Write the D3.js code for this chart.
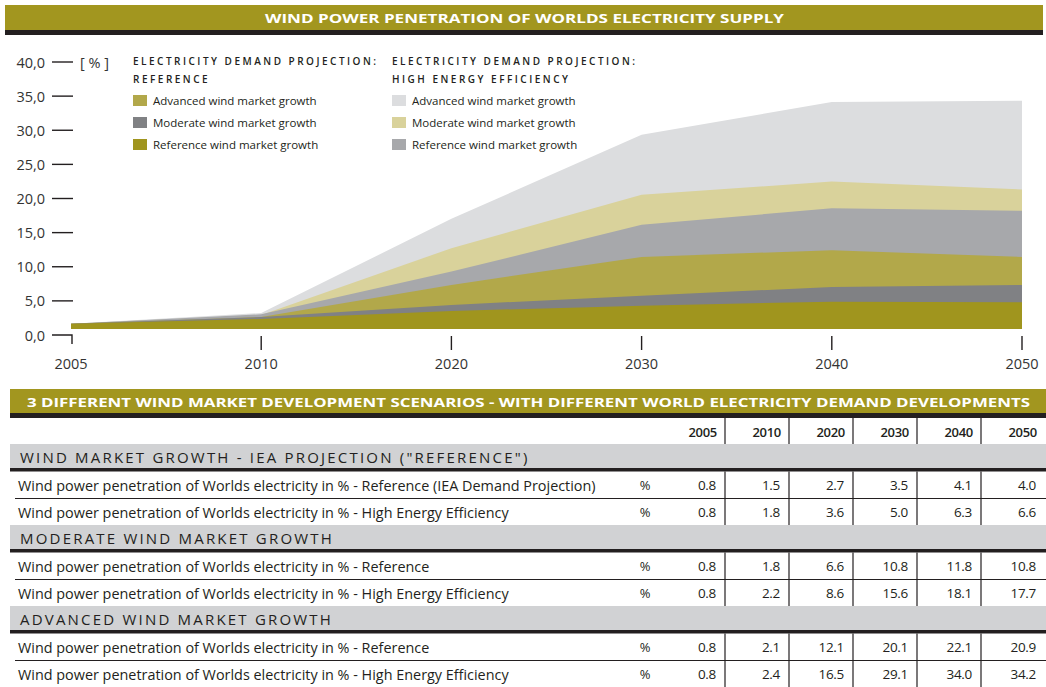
<!DOCTYPE html>
<html><head><meta charset="utf-8">
<script src="https://cdn.jsdelivr.net/npm/d3@7"></script>
<style>
body{margin:0;background:#fff}
svg{display:block}
text{font-family:"Open Sans",sans-serif;fill:#231f20}
</style>
</head><body>
<svg id="c" width="1046" height="687"></svg>
<script>
// ---------- DATA ----------
const years = [2005, 2010, 2020, 2030, 2040, 2050];
const refRef = [0.8, 1.5, 2.7, 3.5, 4.1, 4.0];
const refHE  = [0.8, 1.8, 3.6, 5.0, 6.3, 6.6];
const modRef = [0.8, 1.8, 6.6, 10.8, 11.8, 10.8];
const modHE  = [0.8, 2.2, 8.6, 15.6, 18.1, 17.7];
const advRef = [0.8, 2.1, 12.1, 20.1, 22.1, 20.9];
const advHE  = [0.8, 2.4, 16.5, 29.1, 34.0, 34.2];
const yTicks = [0, 5, 10, 15, 20, 25, 30, 35, 40];
const yTickLabels = ["0,0", "5,0", "10,0", "15,0", "20,0", "25,0", "30,0", "35,0", "40,0"];
const yUnit = "[ % ]";
const chartTitle = "WIND POWER PENETRATION OF WORLDS ELECTRICITY SUPPLY";
const tableTitle = "3 DIFFERENT WIND MARKET DEVELOPMENT SCENARIOS - WITH DIFFERENT WORLD ELECTRICITY DEMAND DEVELOPMENTS";
const legendHeadersRef = ["ELECTRICITY DEMAND PROJECTION:", "REFERENCE"];
const legendHeadersHE = ["ELECTRICITY DEMAND PROJECTION:", "HIGH ENERGY EFFICIENCY"];
const legendLabels = ["Advanced wind market growth", "Moderate wind market growth", "Reference wind market growth"];
const legendColorsRef = ["#b2a84a", "#808184", "#a0951e"];
const legendColorsHE = ["#dcdddf", "#d9d29b", "#a7a8ab"];
const sectionTitles = ["WIND MARKET GROWTH - IEA PROJECTION (\"REFERENCE\")", "MODERATE WIND MARKET GROWTH", "ADVANCED WIND MARKET GROWTH"];
const rowLabelRefIEA = "Wind power penetration of Worlds electricity in % - Reference (IEA Demand Projection)";
const rowLabelRef = "Wind power penetration of Worlds electricity in % - Reference";
const rowLabelHE = "Wind power penetration of Worlds electricity in % - High Energy Efficiency";
const unitLabel = "%";

// series drawn back to front, with their fill colours in the chart
const areaSeries = [
  {v: advHE, c: "#dcdddf"},
  {v: advRef, c: "#d9d29b"},
  {v: modHE, c: "#a7a8ab"},
  {v: modRef, c: "#b2a84a"},
  {v: refHE, c: "#808184"},
  {v: refRef, c: "#a0951e"}
];
const tableBlocks = [
  {title: sectionTitles[0], rows: [{label: rowLabelRefIEA, v: refRef}, {label: rowLabelHE, v: refHE}]},
  {title: sectionTitles[1], rows: [{label: rowLabelRef, v: modRef}, {label: rowLabelHE, v: modHE}]},
  {title: sectionTitles[2], rows: [{label: rowLabelRef, v: advRef}, {label: rowLabelHE, v: advHE}]}
];

// ---------- DRAW ----------
const svg = d3.select("#c");
const ink = "#231f20";
const olive = "#a2961f";

// title bar
svg.append("rect").attr("x", 5).attr("y", 5).attr("width", 1038).attr("height", 25).attr("fill", olive);
svg.append("rect").attr("x", 5).attr("y", 30).attr("width", 1038).attr("height", 5).attr("fill", ink);
svg.append("text").attr("x", 265).attr("y", 18).attr("dominant-baseline", "central")
  .attr("textLength", 519).attr("lengthAdjust", "spacingAndGlyphs")
  .style("font-size", "12.5px").style("font-weight", "700").style("fill", "#fff")
  .text(chartTitle);

// scales
const x = d3.scalePoint().domain(years).range([71, 1022]);
const y = d3.scaleLinear().domain([0, 40]).range([329, 62]);
const yAxisScale = d3.scaleLinear().domain([0, 40]).range([335, 62]);

// areas
const area = d3.area()
  .x((d, i) => x(years[i]))
  .y0(y(0))
  .y1(d => y(d));
svg.append("g").selectAll("path").data(areaSeries).join("path")
  .attr("d", s => area(s.v)).attr("fill", s => s.c);

// y axis (dashes and labels)
const yg = svg.append("g");
yTicks.forEach((t, i) => {
  const yy = yAxisScale(t);
  if (t === 0) {
    yg.append("path").attr("d", `M52,${yy}H${x(years[0]) + 1}V${yy + 9}`)
      .attr("fill", "none").attr("stroke", ink).attr("stroke-width", 1.4);
  } else {
    yg.append("line").attr("x1", 52).attr("x2", 73).attr("y1", yy).attr("y2", yy)
      .attr("stroke", ink).attr("stroke-width", 1.4);
  }
  yg.append("text").attr("x", 45).attr("y", yy).attr("text-anchor", "end")
    .attr("dominant-baseline", "central").style("font-size", "14.5px").style("fill", "#333")
    .text(yTickLabels[i]);
});
yg.append("text").attr("x", 80).attr("y", yAxisScale(40)).attr("dominant-baseline", "central")
  .style("font-size", "14.5px").style("fill", "#333").text(yUnit);

// x axis
const xg = svg.append("g");
years.forEach((yr, i) => {
  if (i > 0) {
    xg.append("line").attr("x1", x(yr)).attr("x2", x(yr)).attr("y1", 336).attr("y2", 350)
      .attr("stroke", ink).attr("stroke-width", 1.4);
  }
  xg.append("text").attr("x", x(yr)).attr("y", 363).attr("text-anchor", "middle")
    .attr("dominant-baseline", "central").style("font-size", "14.5px").style("fill", "#333")
    .text(yr);
});

// legend
function legend(x0, headers, colors) {
  const g = svg.append("g");
  headers.forEach((h, i) => {
    g.append("text").attr("x", x0).attr("y", 61 + i * 18).attr("dominant-baseline", "central")
      .style("font-size", "10px").style("letter-spacing", "2.5px").style("font-weight", "600").text(h);
  });
  legendLabels.forEach((l, i) => {
    const cy = 100.5 + i * 22;
    g.append("rect").attr("x", x0).attr("y", cy - 5.5).attr("width", 14).attr("height", 11).attr("fill", colors[i]);
    g.append("text").attr("x", x0 + 20).attr("y", cy).attr("dominant-baseline", "central")
      .style("font-size", "11.5px").text(l);
  });
}
legend(133, legendHeadersRef, legendColorsRef);
legend(392, legendHeadersHE, legendColorsHE);

// ---------- TABLE ----------
svg.append("rect").attr("x", 10).attr("y", 389).attr("width", 1036).attr("height", 24).attr("fill", olive);
svg.append("rect").attr("x", 10).attr("y", 413).attr("width", 1036).attr("height", 5).attr("fill", ink);
svg.append("text").attr("x", 27).attr("y", 402).attr("dominant-baseline", "central")
  .attr("textLength", 1003).attr("lengthAdjust", "spacingAndGlyphs")
  .style("font-size", "12.5px").style("font-weight", "700").style("fill", "#fff")
  .text(tableTitle);

const col = d3.scaleBand().domain(years).range([661, 1045]);
const fmt = d3.format(".1f");

// header row
years.forEach((yr, i) => {
  svg.append("text").attr("x", col(yr) + col.bandwidth() - 8).attr("y", 432).attr("text-anchor", "end")
    .attr("dominant-baseline", "central").style("font-size", "13px").style("font-weight", "600")
    .style("letter-spacing", "-0.3px").text(yr);
  if (i > 0) {
    svg.append("line").attr("x1", col(yr)).attr("x2", col(yr)).attr("y1", 418).attr("y2", 444)
      .attr("stroke", ink).attr("stroke-width", 1.2);
  }
});

const blockTop = [444, 525, 606];
const rowH = 27;
tableBlocks.forEach((b, bi) => {
  const top = blockTop[bi];
  svg.append("rect").attr("x", 10).attr("y", top).attr("width", 1036).attr("height", 24).attr("fill", "#d1d2d4");
  svg.append("rect").attr("x", 10).attr("y", top + 24).attr("width", 1036).attr("height", 3.5).attr("fill", ink);
  svg.append("text").attr("x", 20).attr("y", top + 13).attr("dominant-baseline", "central")
    .style("font-size", "15px").style("letter-spacing", "2.2px").text(b.title);
  b.rows.forEach((r, ri) => {
    const rt = top + 27.5 + ri * rowH;
    const cy = rt + 13.5;
    if (ri === 0) {
      svg.append("line").attr("x1", 15).attr("x2", 1046).attr("y1", rt + rowH).attr("y2", rt + rowH)
        .attr("stroke", ink).attr("stroke-width", 1);
    }
    svg.append("text").attr("x", 18).attr("y", cy).attr("dominant-baseline", "central")
      .style("font-size", "14.4px").text(r.label);
    svg.append("text").attr("x", 645).attr("y", cy).attr("text-anchor", "middle")
      .attr("dominant-baseline", "central").style("font-size", "13px").text(unitLabel);
    years.forEach((yr, i) => {
      svg.append("text").attr("x", col(yr) + col.bandwidth() - 9).attr("y", cy).attr("text-anchor", "end")
        .attr("dominant-baseline", "central").style("font-size", "13.5px").style("letter-spacing", "-0.3px")
        .text(fmt(r.v[i]));
      if (i > 0) {
        svg.append("line").attr("x1", col(yr)).attr("x2", col(yr)).attr("y1", rt).attr("y2", rt + rowH)
          .attr("stroke", ink).attr("stroke-width", 1.2);
      }
    });
  });
});
</script>
</body></html>
